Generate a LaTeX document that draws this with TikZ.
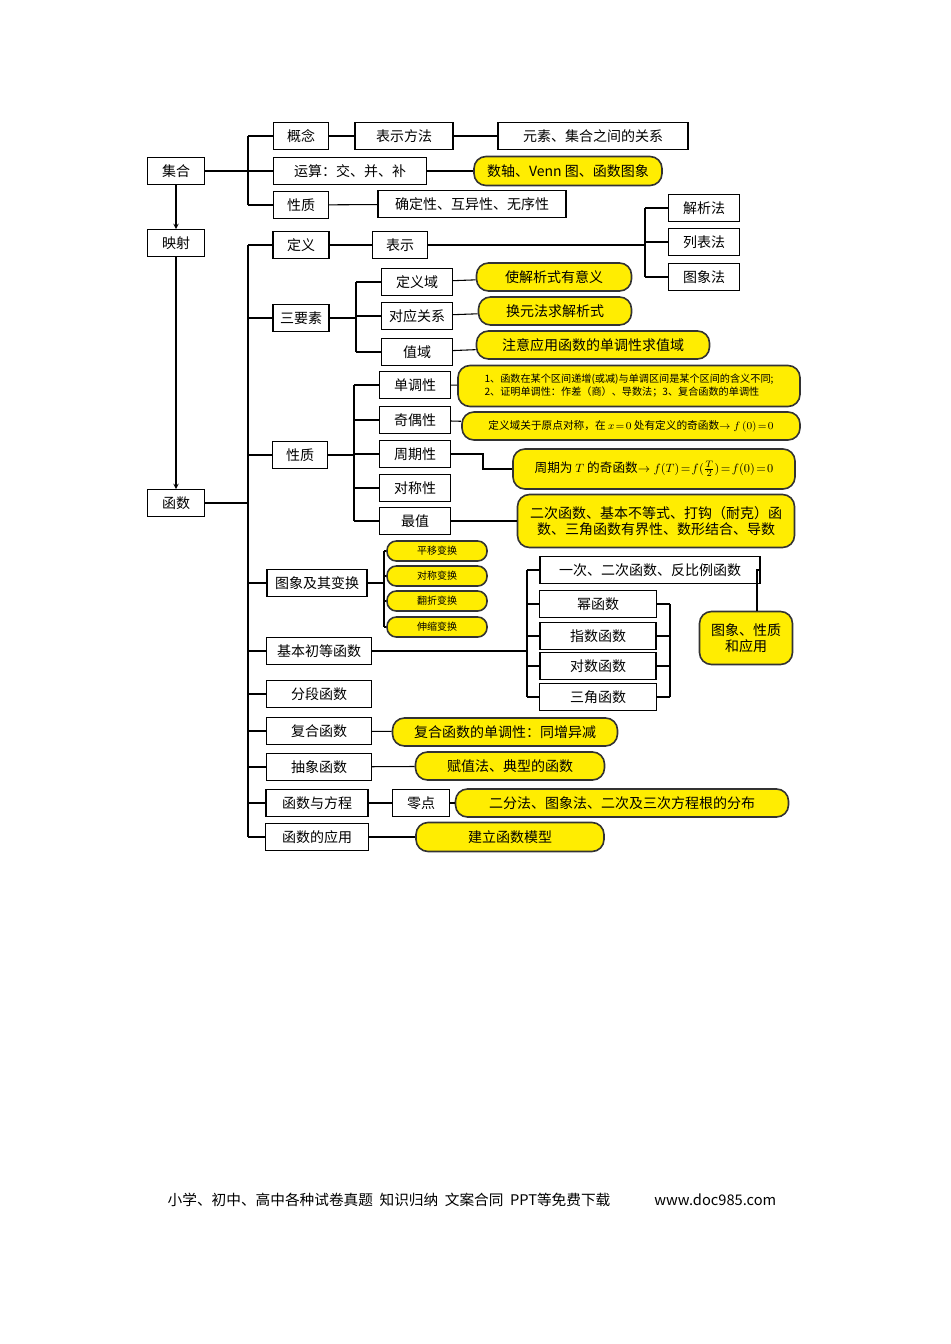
\documentclass[tikz,border=0pt]{standalone}
\usepackage{fontspec}
\setmainfont{Noto Sans CJK SC}
\newfontfamily\footfont{Noto Sans CJK SC}
\begin{document}
\begin{tikzpicture}[x=0.75pt,y=-0.75pt,
 box/.style={draw,thick,fill=white,minimum height=20pt,inner sep=1pt,font=\fontsize{10.5}{12}\selectfont},
 yel/.style={draw=black!80,very thick,fill=yellow!95!orange,rounded corners=9pt,minimum height=21pt,inner sep=1pt,font=\fontsize{10.5}{12}\selectfont,align=center},
 ln/.style={thick},
 >=stealth]
\useasboundingbox (0,0) rectangle (950,1344);
\fill[white] (0,0) rectangle (950,1344);
\newcommand\bx[5]{\node[box,minimum width=#4*0.75pt] (#1) at (#2,#3) {#5};}
\newcommand\yb[6]{\node[yel,minimum width=#4*0.75pt,minimum height=#5*0.75pt] (#1) at (#2,#3) {#6};}
% left column
\bx{jihe}{176}{171}{57}{集合}
\bx{yingshe}{176}{243}{57}{映射}
\bx{hanshu}{176}{503}{57}{函数}
% set branch
\bx{gainian}{301}{136}{55}{概念}
\bx{biaoshifangfa}{404}{136}{98}{表示方法}
\bx{guanxi}{593}{136}{190}{元素、集合之间的关系}
\bx{yunsuan}{350}{171}{153}{运算：交、并、补}
\yb{shuzhou}{568}{171}{188}{29}{数轴、Venn 图、函数图象}
\bx{xz1}{301}{205}{55}{性质}
\bx{queding}{472}{204}{188}{确定性、互异性、无序性}
% function branch
\bx{jiexi}{704}{208}{71}{解析法}
\bx{liebiao}{704}{242}{71}{列表法}
\bx{tuxiang}{704}{277}{71}{图象法}
\bx{dingyi}{301}{245}{56}{定义}
\bx{biaoshi}{400}{245}{55}{表示}
\bx{dyy}{417}{282}{71}{定义域}
\bx{sanyaosu}{301}{318}{56}{三要素}
\bx{duiying}{417}{316}{71}{对应关系}
\bx{zhiyu}{417}{352}{71}{值域}
\yb{y1}{554}{277}{155}{28}{使解析式有意义}
\yb{y2}{555}{311}{153}{28}{换元法求解析式}
\yb{y3}{593}{345}{233}{28}{注意应用函数的单调性求值域}
\bx{dandiao}{415}{385}{71}{单调性}
\bx{qiou}{415}{420}{71}{奇偶性}
\bx{xz2}{300}{455}{55}{性质}
\bx{zhouqi}{415}{454}{71}{周期性}
\bx{duicheng}{415}{488}{71}{对称性}
\bx{zuizhi}{415}{521}{71}{最值}
\yb{y4}{629}{386}{342}{41}{\fontsize{7.6}{10}\selectfont\begin{tabular}{@{}l@{}}1、函数在某个区间递增(或减)与单调区间是某个区间的含义不同;\\2、证明单调性：作差（商）、导数法；3、复合函数的单调性\end{tabular}}
\yb{y5}{631}{426}{338}{28}{\fontsize{8}{9}\selectfont 定义域关于原点对称，在 $x\!=\!0$ 处有定义的奇函数$\rightarrow f\,(0)\!=\!0$}
\yb{y6}{654}{469}{282}{40}{\fontsize{9.5}{11}\selectfont 周期为 $T$ 的奇函数$\rightarrow f(T)\!=\!f(\frac{T}{2})\!=\!f(0)\!=\!0$}
\yb{y7}{656}{521}{277}{53}{二次函数、基本不等式、打钩（耐克）函\\数、三角函数有界性、数形结合、导数}
\bx{tubian}{317}{583}{100}{图象及其变换}
\node[yel,minimum width=75pt,minimum height=15pt,rounded corners=7pt,font=\fontsize{7.5}{9}\selectfont] (p1) at (437,551) {平移变换};
\node[yel,minimum width=75pt,minimum height=15pt,rounded corners=7pt,font=\fontsize{7.5}{9}\selectfont] (p2) at (437,576) {对称变换};
\node[yel,minimum width=75pt,minimum height=15pt,rounded corners=7pt,font=\fontsize{7.5}{9}\selectfont] (p3) at (437,601) {翻折变换};
\node[yel,minimum width=75pt,minimum height=15pt,rounded corners=7pt,font=\fontsize{7.5}{9}\selectfont] (p4) at (437,627) {伸缩变换};
\bx{yici}{650}{570}{220}{一次、二次函数、反比例函数}
\bx{mi}{598}{604}{117}{幂函数}
\bx{zhishu}{598}{636}{116}{指数函数}
\bx{duishu}{598}{666}{116}{对数函数}
\bx{sanjiao}{598}{697}{117}{三角函数}
\yb{y8}{746}{638}{93}{53}{图象、性质\\和应用}
\bx{jiben}{319}{651}{105}{基本初等函数}
\bx{fenduan}{319}{694}{105}{分段函数}
\bx{fuhe}{319}{731}{105}{复合函数}
\yb{y9}{505}{732}{225}{28}{复合函数的单调性：同增异减}
\bx{chouxiang}{319}{767}{105}{抽象函数}
\yb{y10}{510}{766}{189}{28}{赋值法、典型的函数}
\bx{fangcheng}{317}{803}{102}{函数与方程}
\bx{lingdian}{421}{803}{57}{零点}
\yb{y11}{622}{803}{333}{28}{二分法、图象法、二次及三次方程根的分布}
\bx{yingyong}{317}{837}{103}{函数的应用}
\yb{y12}{510}{837}{188}{29}{建立函数模型}
% connectors
\draw[ln,->] (jihe) -- (yingshe);
\draw[ln,->] (yingshe) -- (hanshu);
\coordinate (t1) at (248,171);
\draw[ln] (jihe.east) -- (t1);
\draw[ln] (t1 |- gainian) -- (t1 |- xz1);
\foreach \n in {gainian,yunsuan,xz1} \draw[ln] (t1 |- \n) -- (\n.west);
\draw[ln] (gainian) -- (biaoshifangfa);
\draw[ln] (biaoshifangfa) -- (guanxi);
\draw[ln] (yunsuan) -- (shuzhou);
\draw[ln] (xz1) -- (queding);
\coordinate (t2) at (248,503);
\draw[ln] (hanshu.east) -- (t2);
\draw[ln] (t2 |- dingyi) -- (t2 |- yingyong);
\foreach \n in {dingyi,sanyaosu,xz2,tubian,jiben,fenduan,fuhe,chouxiang,fangcheng,yingyong} \draw[ln] (t2 |- \n) -- (\n.west);
\draw[ln] (dingyi) -- (biaoshi);
\coordinate (t3) at (645,245);
\draw[ln] (biaoshi.east) -- (t3);
\draw[ln] (t3 |- jiexi) -- (t3 |- tuxiang);
\foreach \n in {jiexi,liebiao,tuxiang} \draw[ln] (t3 |- \n) -- (\n.west);
\coordinate (t4) at (356,318);
\draw[ln] (sanyaosu.east) -- (t4);
\draw[ln] (t4 |- dyy) -- (t4 |- zhiyu);
\foreach \n in {dyy,duiying,zhiyu} \draw[ln] (t4 |- \n) -- (\n.west);
\draw[ln] (dyy) -- (y1);
\draw[ln] (duiying) -- (y2);
\draw[ln] (zhiyu) -- (y3);
\coordinate (t5) at (354,455);
\draw[ln] (xz2.east) -- (t5);
\draw[ln] (t5 |- dandiao) -- (t5 |- zuizhi);
\foreach \n in {dandiao,qiou,zhouqi,duicheng,zuizhi} \draw[ln] (t5 |- \n) -- (\n.west);
\draw[ln] (dandiao) -- (y4);
\draw[ln] (qiou) -- (y5);
\draw[ln] (zhouqi.east) -- (483,454) -- (483,469) -- (y6.west);
\draw[ln] (zuizhi) -- (y7);
\coordinate (t6) at (384,583);
\draw[ln] (tubian.east) -- (t6);
\draw[ln] (t6 |- p1) -- (t6 |- p4);
\foreach \n in {p1,p2,p3,p4} \draw[ln] (t6 |- \n) -- (\n.west);
\coordinate (t7) at (527,651);
\draw[ln] (jiben.east) -- (t7);
\draw[ln] (t7 |- yici) -- (t7 |- sanjiao);
\foreach \n in {yici,mi,zhishu,duishu,sanjiao} \draw[ln] (t7 |- \n) -- (\n.west);
\coordinate (t8) at (670,650);
\draw[ln] (t8 |- mi) -- (t8 |- sanjiao);
\foreach \n in {mi,zhishu,duishu,sanjiao} \draw[ln] (\n.east) -- (t8 |- \n);
\draw[ln] (yici.east) -- (757,570) -- (y8.north -| 757,0);
\draw[ln] (fuhe) -- (y9);
\draw[ln] (chouxiang) -- (y10);
\draw[ln] (fangcheng) -- (lingdian);
\draw[ln] (lingdian) -- (y11);
\draw[ln] (yingyong) -- (y12);
\node[font=\footfont\fontsize{11}{12}\selectfont,anchor=west] (foot) at (163,1200) {小学、初中、高中各种试卷真题\ \ 知识归纳\ \ 文案合同\ \ PPT等免费下载\qquad\quad www.doc985.com};
\end{tikzpicture}
\end{document}
